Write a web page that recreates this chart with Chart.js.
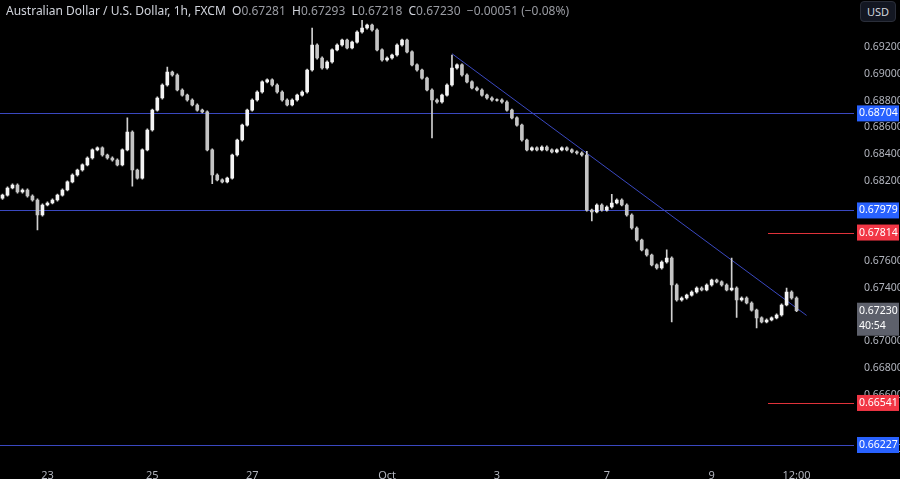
<!DOCTYPE html>
<html>
<head>
<meta charset="utf-8">
<script src="https://cdn.jsdelivr.net/npm/chart.js@4"></script>
<style>
  html, body { margin: 0; padding: 0; background: #000; }
  #wrap { position: relative; width: 900px; height: 479px; }
  #title { position: absolute; left: 6px; top: 2px; font: 12px "Noto Sans", sans-serif; color: #d1d4dc; white-space: pre; }
  #title .v { color: #9a9ca3; }
  #usd { position: absolute; left: 860px; top: 1px; width: 34px; height: 19px; border-radius: 4px; background: #131722; border: 1px solid #2a2e39;
         font: 11px "Noto Sans", sans-serif; color: #d1d4dc; text-align: center; line-height: 19px; }
</style>
</head>
<body>
<div id="wrap">
  <canvas id="chart" width="900" height="479"></canvas>
  <div id="title">Australian Dollar / U.S. Dollar, 1h, FXCM  O<span class="v">0.67281</span>  H<span class="v">0.67293</span>  L<span class="v">0.67218</span>  C<span class="v">0.67230</span>  <span class="v">−0.00051 (−0.08%)</span></div>
  <div id="usd">USD</div>
</div>
<script>
const closes = [
  0.68094, 0.68147, 0.68169, 0.68117, 0.68132, 0.68087, 0.68057, 0.67945, 0.68020, 0.68035,
  0.68057, 0.68094, 0.68132, 0.68192, 0.68244, 0.68281, 0.68319, 0.68371, 0.68431, 0.68446,
  0.68393, 0.68371, 0.68356, 0.68319, 0.68431, 0.68565, 0.68281, 0.68221, 0.68431, 0.68580,
  0.68729, 0.68819, 0.68916, 0.69013, 0.68991, 0.68879, 0.68841, 0.68804, 0.68767, 0.68729,
  0.68715, 0.68431, 0.68244, 0.68207, 0.68192, 0.68221, 0.68393, 0.68505, 0.68617, 0.68729,
  0.68804, 0.68864, 0.68939, 0.68954, 0.68916, 0.68864, 0.68804, 0.68767, 0.68804, 0.68841,
  0.68864, 0.69028, 0.69215, 0.69118, 0.69043, 0.69088, 0.69178, 0.69215, 0.69252, 0.69193,
  0.69237, 0.69312, 0.69342, 0.69364, 0.69327, 0.69178, 0.69103, 0.69118, 0.69140, 0.69215,
  0.69252, 0.69163, 0.69066, 0.69028, 0.68968, 0.68879, 0.68804, 0.68789, 0.68841, 0.68916,
  0.69043, 0.69066, 0.68991, 0.68939, 0.68894, 0.68879, 0.68841, 0.68819, 0.68804, 0.68804,
  0.68789, 0.68729, 0.68670, 0.68617, 0.68505, 0.68431, 0.68446, 0.68431, 0.68453, 0.68431,
  0.68416, 0.68431, 0.68446, 0.68431, 0.68416, 0.68408, 0.68393, 0.67982, 0.67968, 0.68020,
  0.67982, 0.68005, 0.68035, 0.68057, 0.68020, 0.67945, 0.67848, 0.67758, 0.67684, 0.67646,
  0.67572, 0.67549, 0.67594, 0.67624, 0.67422, 0.67310, 0.67325, 0.67347, 0.67370, 0.67400,
  0.67385, 0.67422, 0.67459, 0.67445, 0.67422, 0.67385, 0.67400, 0.67310, 0.67325, 0.67288,
  0.67235, 0.67176, 0.67146, 0.67161, 0.67176, 0.67198, 0.67273, 0.67370, 0.67325, 0.67230
];
const firstOpen = 0.68070;
// notable wick extremes, by candle index
const highs = { 25: 0.68670, 33: 0.69050, 62: 0.69342, 72: 0.69400, 90: 0.69140, 117: 0.68420, 122: 0.68100, 133: 0.67684, 146: 0.67624, 157: 0.67400 };
const lows = { 7: 0.67833, 26: 0.68160, 42: 0.68180, 86: 0.68520, 118: 0.67900, 134: 0.67146, 147: 0.67180, 151: 0.67101 };
const slotCount = 171;
const dayLabels = { 9: '23', 30: '25', 50: '27', 77: 'Oct', 99: '3', 121: '7', 142: '9', 159: '12:00' };
const blueLevels = [0.68704, 0.67979, 0.66227];
const redLevels = [0.67814, 0.66541];
const trendFrom = [90, 0.69150];
const trendTo = [161, 0.67195];
const lastPrice = 0.67230;
const countdown = '40:54';
// price shown at the top pixel row of the picture, and price per pixel
const priceAtTop = 0.695511;
const pricePerPixel = 0.0000747;

const labels = [];
const bodies = [];
const wicks = [];
const bodyColors = [];
for (let i = 0; i < slotCount; i++) {
  labels.push(dayLabels[i] || '');
  if (i < closes.length) {
    const o = i === 0 ? firstOpen : closes[i - 1];
    const c = closes[i];
    const top = Math.max(o, c), bot = Math.min(o, c);
    bodies.push(top - bot < 0.00004 ? [bot - 0.00002, top + 0.00002] : [bot, top]);
    wicks.push([lows[i] ?? bot - 0.00008, highs[i] ?? top + 0.00008]);
    bodyColors.push(c >= o ? '#f4f4f4' : '#c4c4c4');
  } else {
    bodies.push(null);
    wicks.push(null);
    bodyColors.push('#fff');
  }
}

const hidden = [0.664, 0.672, 0.678, 0.680, 0.694];

const overlay = {
  id: 'overlay',
  beforeDatasetsDraw(chart) {
    const { ctx, chartArea, scales } = chart;
    const y = scales.y, x = scales.x;
    ctx.save();
    ctx.lineWidth = 1;
    ctx.strokeStyle = '#3a48c0';
    blueLevels.forEach((v) => {
      const py = Math.round(y.getPixelForValue(v)) + 0.5;
      ctx.beginPath(); ctx.moveTo(0, py); ctx.lineTo(chartArea.right, py); ctx.stroke();
    });
    ctx.strokeStyle = '#e0323a';
    redLevels.forEach((v) => {
      const py = Math.round(y.getPixelForValue(v)) + 0.5;
      ctx.beginPath(); ctx.moveTo(768, py); ctx.lineTo(chartArea.right, py); ctx.stroke();
    });
    ctx.strokeStyle = '#3a48c0';
    ctx.beginPath();
    ctx.moveTo(x.getPixelForValue(trendFrom[0]), y.getPixelForValue(trendFrom[1]));
    ctx.lineTo(x.getPixelForValue(trendTo[0]), y.getPixelForValue(trendTo[1]));
    ctx.stroke();
    ctx.restore();
  },
  afterDraw(chart) {
    const { ctx, chartArea, scales } = chart;
    const y = scales.y;
    ctx.save();
    ctx.font = '10.5px "Noto Sans", sans-serif';
    ctx.textBaseline = 'middle';
    const tag = (v, bg, text2) => {
      const py = y.getPixelForValue(v);
      ctx.fillStyle = bg;
      ctx.fillRect(chartArea.right + 3, py - 8, 42, text2 ? 33 : 16);
      ctx.fillStyle = '#ffffff';
      ctx.fillText(v.toFixed(5), chartArea.right + 5, py);
      if (text2) ctx.fillText(text2, chartArea.right + 5, py + 15);
    };
    blueLevels.forEach((v) => tag(v, '#2962ff'));
    redLevels.forEach((v) => tag(v, '#f23645'));
    tag(lastPrice, '#5d606b', countdown);
    ctx.restore();
  }
};

const chart = new Chart(document.getElementById('chart'), {
  type: 'bar',
  data: {
    labels,
    datasets: [
      { data: wicks, backgroundColor: '#d0d0d0', barThickness: 1, grouped: false, order: 2 },
      { data: bodies, backgroundColor: bodyColors, barThickness: 3, grouped: false, order: 1 }
    ]
  },
  options: {
    responsive: false,
    animation: false,
    layout: { padding: 0 },
    plugins: { legend: { display: false }, tooltip: { enabled: false } },
    scales: {
      x: {
        offset: true,
        grid: { display: false },
        border: { display: false },
        ticks: {
          autoSkip: false, maxRotation: 0, color: '#b2b5be', padding: 0,
          font: { family: 'Noto Sans', size: 11 },
          callback: (v, i) => labels[i]
        },
        afterFit: (s) => { s.height = 18; }
      },
      y: {
        position: 'right',
        min: 0.66, max: 0.696,
        grid: { display: false },
        border: { display: false },
        afterBuildTicks: (s) => {
          const t = [];
          for (let v = 0.662; v <= 0.6945; v += 0.002) {
            const r = Math.round(v * 1000) / 1000;
            if (!hidden.some((h) => Math.abs(h - r) < 1e-6)) t.push({ value: r });
          }
          s.ticks = t;
        },
        ticks: {
          color: '#b2b5be', padding: 2,
          font: { family: 'Noto Sans', size: 10.5 },
          callback: (v) => v.toFixed(5)
        },
        afterFit: (s) => { s.width = 46; }
      }
    }
  },
  plugins: [overlay]
});

// match the picture's price-to-pixel mapping to the laid-out plot area
const area = chart.chartArea;
chart.options.scales.y.max = priceAtTop - area.top * pricePerPixel;
chart.options.scales.y.min = priceAtTop - area.bottom * pricePerPixel;
chart.update();
</script>
</body>
</html>
